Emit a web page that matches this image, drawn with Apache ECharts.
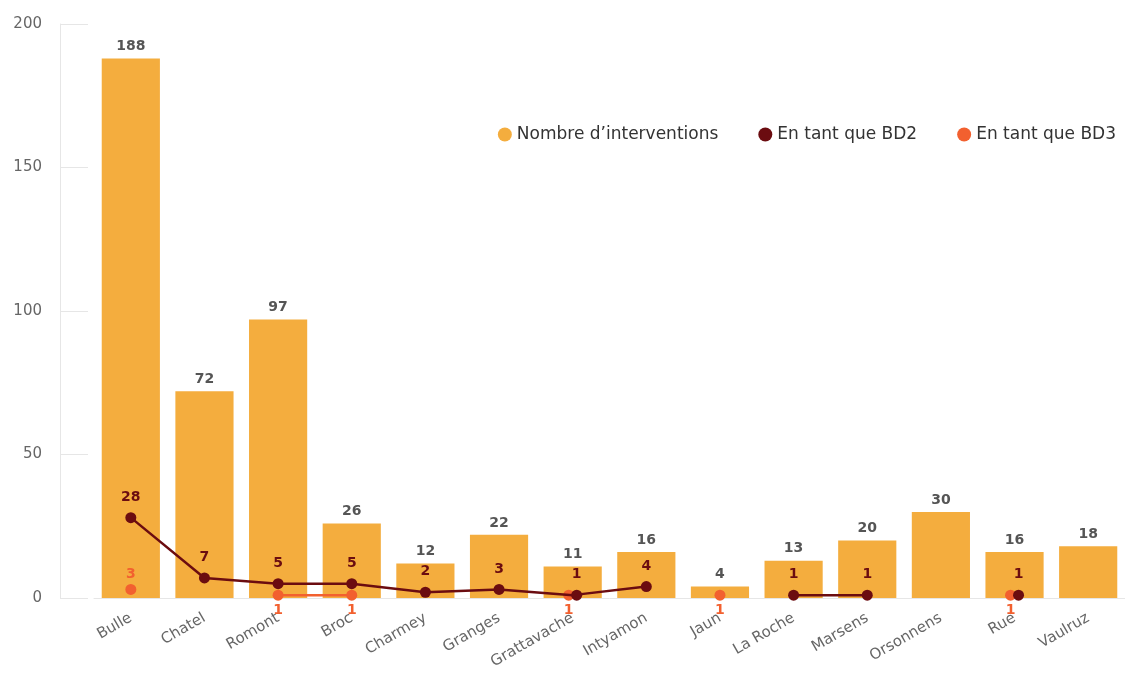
<!DOCTYPE html>
<html>
<head>
<meta charset="utf-8">
<script src="https://cdn.jsdelivr.net/npm/echarts@6/dist/echarts.min.js"></script>
<style>
  html, body { margin: 0; padding: 0; background: #fff; }
  #chart { width: 1125px; height: 680px; }
</style>
</head>
<body>
<div id="chart"></div>
<script>
// données
var communes = ["Bulle", "Chatel", "Romont", "Broc", "Charmey", "Granges", "Grattavache",
  "Intyamon", "Jaun", "La Roche", "Marsens", "Orsonnens", "Rue", "Vaulruz"];
var interventions = [188, 72, 97, 26, 12, 22, 11, 16, 4, 13, 20, 30, 16, 18];
var bd2 = [28, 7, 5, 5, 2, 3, 1, 4, null, 1, 1, null, 1, null];
var bd3 = [3, null, 1, 1, null, null, 1, null, 1, null, null, null, 1, null];
var yTicks = [0, 50, 100, 150, 200];

var font = "DejaVu Sans";
var cOrange = "#F4AD3E";
var cBd2 = "#6B0C10";
var cBd3 = "#F2602F";

// quand les deux points se superposent, on les décale un peu
function pts(values, dx, labelPos) {
  return values.map(function (v, i) {
    if (v === null) return null;
    var item = { value: v };
    if (bd2[i] !== null && bd2[i] === bd3[i]) item.symbolOffset = [dx, 0];
    if (labelPos) item.label = { position: labelPos(v, i) };
    return item;
  });
}

var chart = echarts.init(document.getElementById("chart"));
chart.setOption({
  animation: false,
  textStyle: { fontFamily: font },
  grid: { left: 94, right: 0, top: 24, bottom: 82 },
  legend: {
    right: 4,
    top: 121,
    icon: "circle",
    itemWidth: 14,
    itemHeight: 14,
    itemGap: 40,
    textStyle: { fontSize: 17, color: "#333", fontFamily: font },
    data: ["Nombre d’interventions", "En tant que BD2", "En tant que BD3"]
  },
  xAxis: {
    type: "category",
    data: communes,
    axisLine: { lineStyle: { color: "#e6e6e6" } },
    axisTick: { show: false },
    axisLabel: { rotate: 30, color: "#666", fontSize: 15, margin: 19, interval: 0 }
  },
  yAxis: {
    type: "value",
    min: 0,
    max: 200,
    interval: 50,
    offset: 34,
    axisLine: { show: true, lineStyle: { color: "#e6e6e6" } },
    axisTick: { show: true, inside: true, length: 28, lineStyle: { color: "#e6e6e6" } },
    splitLine: { show: false },
    axisLabel: {
      color: "#666", fontSize: 15, margin: 18,
      formatter: function (v) { return yTicks.indexOf(v) >= 0 ? String(v) : ""; }
    }
  },
  series: [
    {
      name: "Nombre d’interventions",
      type: "bar",
      data: interventions,
      barCategoryGap: "21%",
      itemStyle: { color: cOrange },
      label: { show: true, position: "top", distance: 5, color: "#555", fontWeight: "bold", fontSize: 14 },
      z: 1
    },
    {
      name: "En tant que BD2",
      type: "line",
      data: pts(bd2, 4),
      connectNulls: false,
      symbol: "circle",
      symbolSize: 11,
      lineStyle: { color: cBd2, width: 2.5 },
      itemStyle: { color: cBd2 },
      label: { show: true, position: "top", distance: 8, color: cBd2, fontWeight: "bold", fontSize: 14 },
      z: 3
    },
    {
      name: "En tant que BD3",
      type: "line",
      data: pts(bd3, -4, function (v, i) { return i === 0 ? "top" : "bottom"; }),
      connectNulls: false,
      symbol: "circle",
      symbolSize: 11,
      lineStyle: { color: cBd3, width: 2.5 },
      itemStyle: { color: cBd3 },
      label: { show: true, position: "bottom", distance: 3, color: cBd3, fontWeight: "bold", fontSize: 14 },
      z: 2
    }
  ]
});
</script>
</body>
</html>
